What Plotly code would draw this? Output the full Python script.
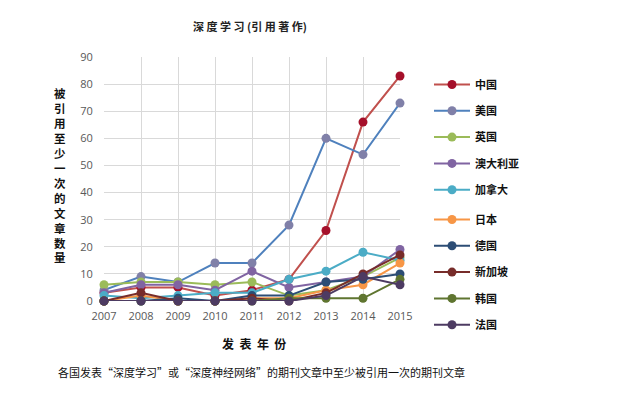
import plotly.graph_objects as go

years = [2007, 2008, 2009, 2010, 2011, 2012, 2013, 2014, 2015]
countries = ["中国", "美国", "英国", "澳大利亚", "加拿大", "日本", "德国", "新加坡", "韩国", "法国"]
china = [3, 5, 5, 2, 4, 8, 26, 66, 83]
usa = [4, 9, 7, 14, 14, 28, 60, 54, 73]
uk = [6, 7, 7, 6, 7, 2, 4, 9, 16]
australia = [3, 6, 6, 4, 11, 5, 7, 9, 19]
canada = [2, 1, 2, 3, 3, 8, 11, 18, 15]
japan = [0, 2, 0, 0, 1, 1, 4, 6, 14]
germany = [0, 0, 1, 0, 2, 2, 7, 8, 10]
singapore = [0, 3, 0, 0, 1, 0, 3, 10, 17]
korea = [0, 0, 0, 0, 0, 1, 1, 1, 8]
france = [0, 0, 0, 0, 0, 0, 2, 9, 6]
series = [china, usa, uk, australia, canada, japan, germany, singapore, korea, france]
y_ticks = [0, 10, 20, 30, 40, 50, 60, 70, 80, 90]

line_colors = ["#C0504D", "#4F81BD", "#9BBB59", "#8064A2", "#4BACC6",
               "#F79646", "#2C4D75", "#772C2A", "#5F7530", "#4D3B62"]
marker_colors = ["#A5102A", "#8080A8", "#9BBB59", "#8064A2", "#4BACC6",
                 "#F79646", "#2C4D75", "#772C2A", "#5F7530", "#4D3B62"]

fig = go.Figure()
for i, (name, vals) in enumerate(zip(countries, series)):
    fig.add_trace(go.Scatter(
        x=years, y=vals, name="<b>" + name + "</b>", mode="lines+markers",
        legendgroup=f"g{i}",
        legend="legend" if i < 5 else "legend2",
        line=dict(color=line_colors[i], width=2),
        marker=dict(color=marker_colors[i], size=9),
        cliponaxis=False,
    ))

legend_common = dict(xanchor="left", yanchor="top", traceorder="grouped",
                     tracegroupgap=7.3, itemwidth=36,
                     font=dict(size=11, color="#111111"), bgcolor="rgba(0,0,0,0)")

fig.update_layout(
    width=640, height=397,
    paper_bgcolor="white", plot_bgcolor="white",
    margin=dict(l=104, r=240, t=57, b=96, autoexpand=False),
    font=dict(family="Noto Sans CJK SC", color="#333333"),
    title=dict(text="<b>深 度 学 习 (引 用 著 作)</b>", x=250 / 640, xanchor="center",
               y=1 - 27 / 397, yanchor="middle",
               font=dict(size=11, color="#222222")),
    xaxis=dict(range=[2007, 2015], tickvals=years, showgrid=True, gridcolor="#D9D9D9",
               gridwidth=1, zeroline=False, showline=False,
               ticks="outside", ticklen=5, tickcolor="rgba(0,0,0,0)",
               tickfont=dict(family="Open Sans", size=11, color="#595959")),
    yaxis=dict(range=[0, 90], tickvals=y_ticks, showgrid=True, gridcolor="#D9D9D9",
               gridwidth=1, zeroline=False, showline=False,
               ticks="outside", ticklen=8, tickcolor="rgba(0,0,0,0)",
               tickfont=dict(family="Open Sans", size=11, color="#595959")),
    legend=dict(x=(429 - 104) / 296, y=1 - 13 / 244, **legend_common),
    legend2=dict(x=(429 - 104) / 296, y=1 - (13 + 135) / 244, **legend_common),
    showlegend=True,
)

fig.add_annotation(text="<b>" + "<br>".join("被引用至少一次的文章数量") + "</b>",
                   xref="paper", yref="paper", x=-44 / 296, y=1 - 26 / 244,
                   xanchor="center", yanchor="top", showarrow=False,
                   font=dict(size=11.5, color="#111111"), align="center")
fig.add_annotation(text="<b>发  表  年  份</b>", xref="paper", yref="paper",
                   x=(254 - 104) / 296, y=-(343 - 301) / 244, xanchor="center",
                   yanchor="middle", showarrow=False,
                   font=dict(size=12, color="#111111"))
fig.add_annotation(text="各国发表“深度学习”或“深度神经网络”的期刊文章中至少被引用一次的期刊文章",
                   xref="paper", yref="paper",
                   x=(56 - 104) / 296, y=-(372 - 301) / 244, xanchor="left",
                   yanchor="middle", showarrow=False,
                   font=dict(size=11, color="#111111"))

fig.write_html("out.html", config={"displayModeBar": False},
               post_script="document.body.style.margin='0';")
